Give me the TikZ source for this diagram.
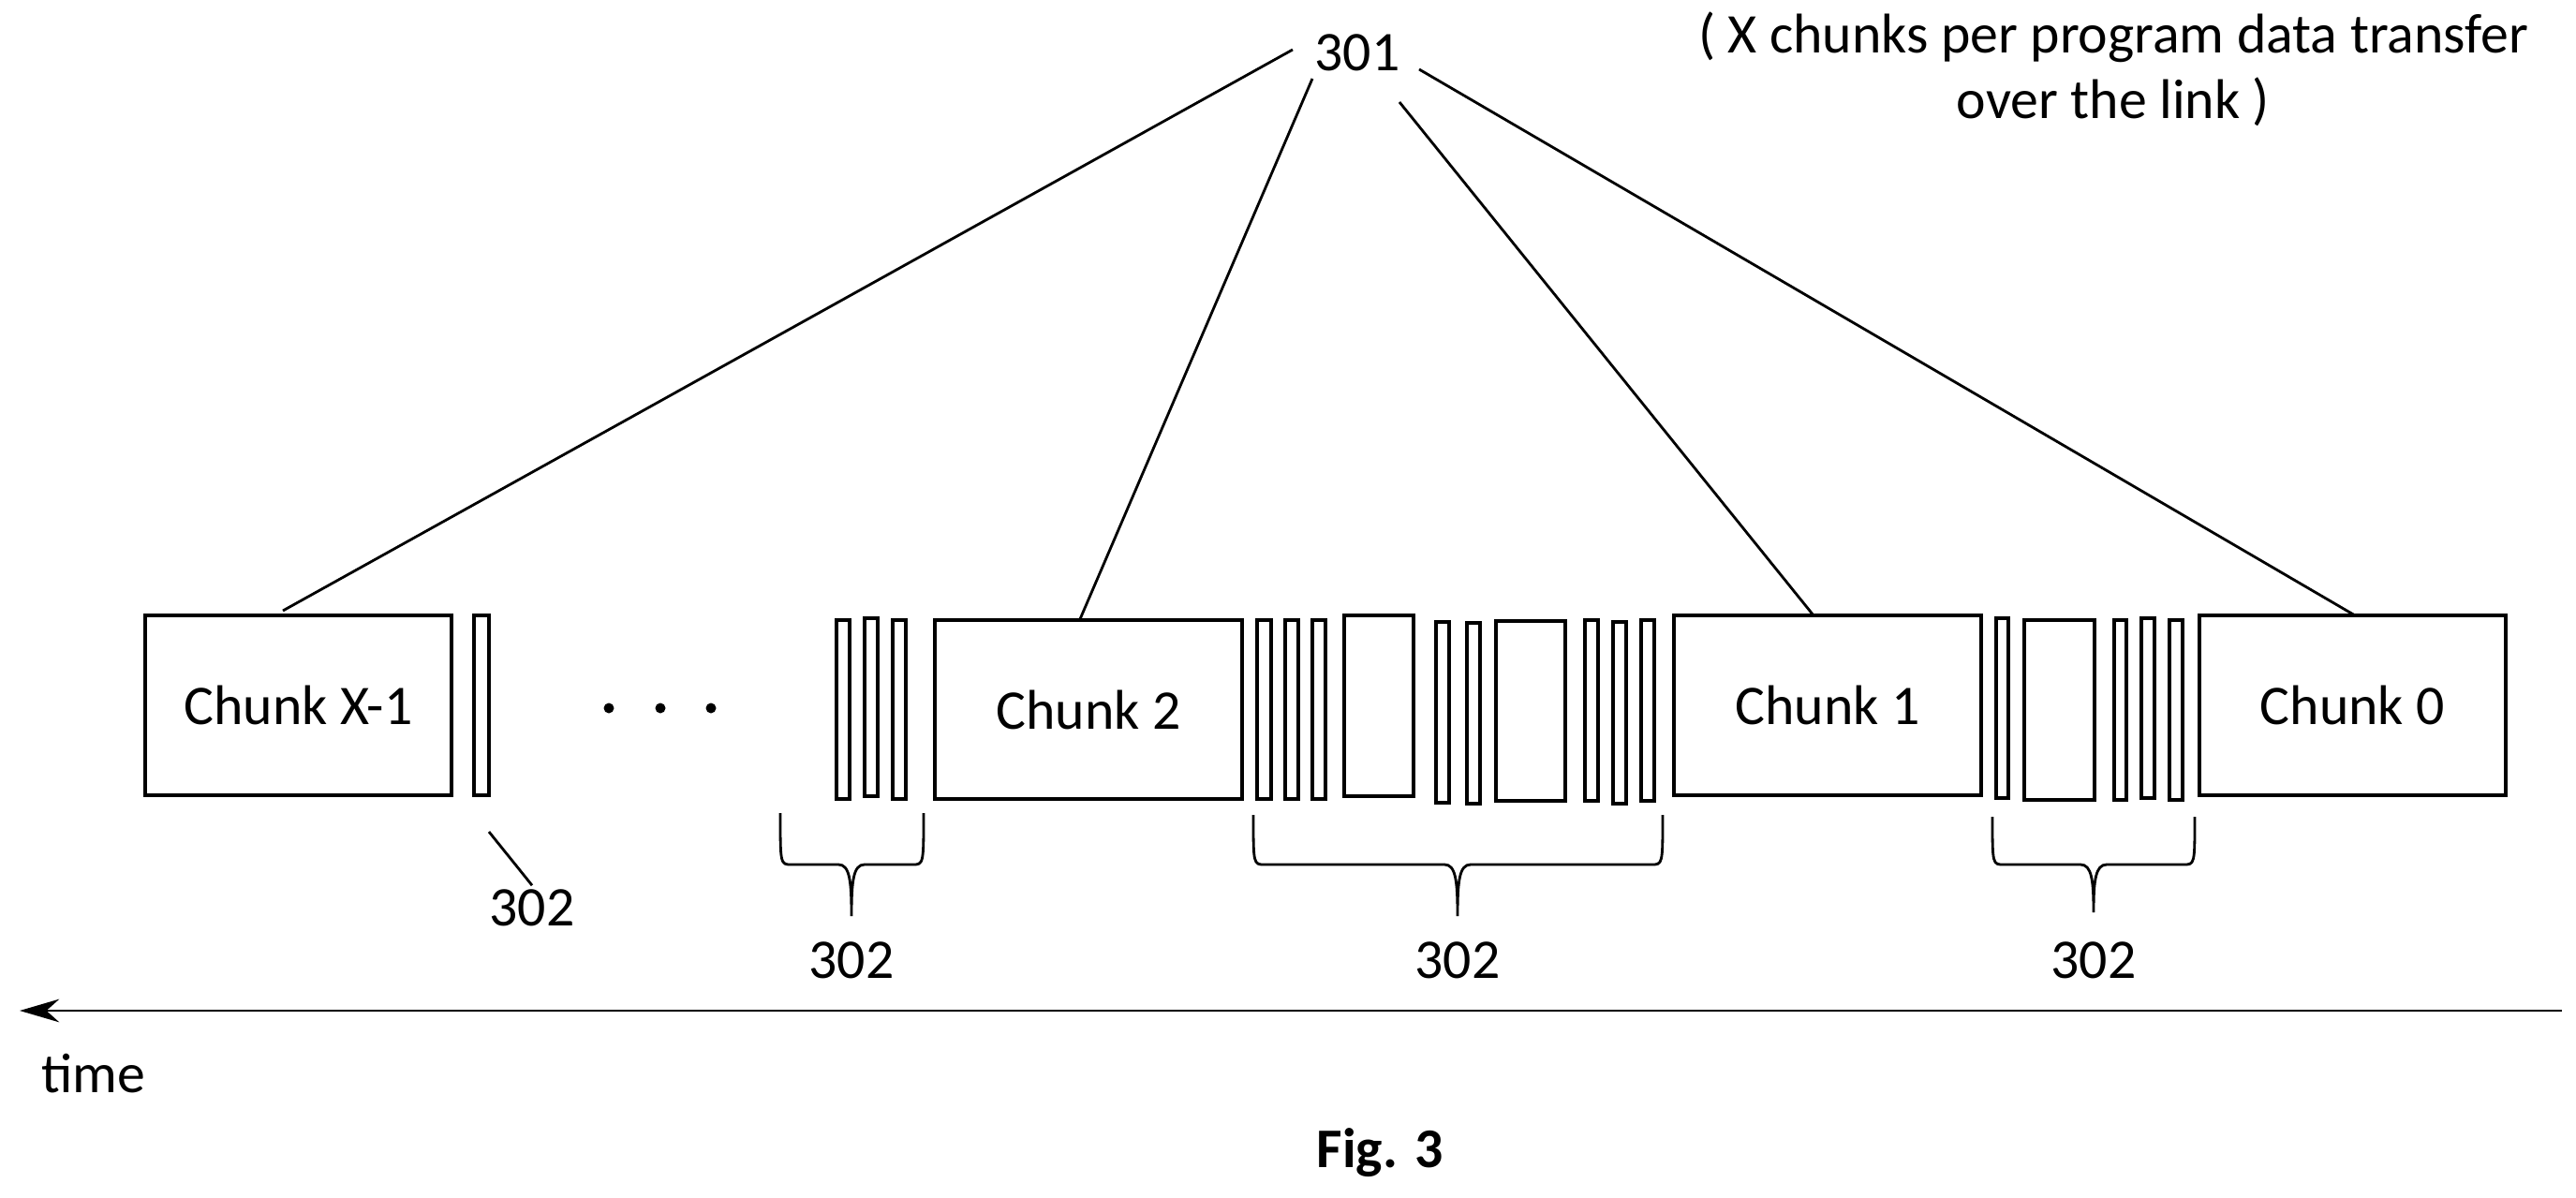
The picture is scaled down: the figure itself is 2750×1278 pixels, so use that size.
\documentclass[tikz,border=0pt]{standalone}
\usepackage{fontspec}
\setmainfont{Carlito}
\usetikzlibrary{arrows.meta}
\begin{document}
\begin{tikzpicture}[x=0.01cm,y=-0.01cm,
  box/.style={draw,line width=1pt,inner sep=0pt,font=\fontsize{17}{20}\selectfont},
  lbl/.style={font=\fontsize{17}{20}\selectfont,inner sep=1pt},
  ln/.style={line width=0.8pt}]
\useasboundingbox (0,0) rectangle (2750,1278);
\newcommand\mybox[6]{\node[box,minimum width={(#3-#2)*0.01cm},minimum height={(#5-#4)*0.01cm}] (#1) at ({(#2+#3)/2},{(#4+#5)/2}) {#6};}
\newcommand\mybrace[5]{% x1 x2 tip top bottom
  \draw[ln] (#1,#4) .. controls (#1,923) and (#1,923) .. (#1+12,923) -- (#3-14,923) .. controls (#3-2,923) and (#3,940) .. (#3,#5)
    (#2,#4) .. controls (#2,923) and (#2,923) .. (#2-12,923) -- (#3+14,923) .. controls (#3+2,923) and (#3,940) .. (#3,#5);}
% chunks
\mybox{cx}{155}{482}{657}{849}{Chunk X-1}
\mybox{c2}{998}{1326}{662}{853}{Chunk 2}
\mybox{c1}{1787}{2115}{657}{849}{Chunk 1}
\mybox{c0}{2348}{2675}{657}{849}{Chunk 0}
% small items
\mybox{a1}{506}{522}{657}{849}{}
\mybox{b1}{893}{907}{662}{853}{}
\mybox{b2}{923}{937}{660}{850}{}
\mybox{b3}{953}{967}{662}{853}{}
\mybox{d1}{1342}{1357}{662}{853}{}
\mybox{d2}{1372}{1386}{662}{853}{}
\mybox{d3}{1401}{1415}{662}{853}{}
\mybox{d4}{1435}{1509}{657}{850}{}
\mybox{d5}{1533}{1547}{664}{857}{}
\mybox{d6}{1566}{1580}{665}{858}{}
\mybox{d7}{1597}{1671}{663}{855}{}
\mybox{d8}{1692}{1706}{662}{855}{}
\mybox{d9}{1722}{1736}{664}{858}{}
\mybox{d10}{1752}{1766}{662}{855}{}
\mybox{e1}{2131}{2144}{660}{852}{}
\mybox{e2}{2161}{2236}{662}{854}{}
\mybox{e3}{2257}{2270}{662}{854}{}
\mybox{e4}{2286}{2300}{660}{852}{}
\mybox{e5}{2316}{2330}{662}{854}{}
% dots
\foreach \x in {650,705,759} \fill (\x,756) circle (5.5);
% braces
\mybrace{833}{986}{909}{868}{978}
\mybrace{1338}{1775}{1556}{870}{978}
\mybrace{2127}{2343}{2235}{872}{974}
% labels 302
\node[lbl] (p1) at (568,969) {302};
\node[lbl] (p2) at (909,1025) {302};
\node[lbl] (p3) at (1556,1025) {302};
\node[lbl] (p4) at (2235,1025) {302};
\coordinate (a1b) at (522,888);
\draw[ln] (a1b) -- (p1.north);
% 301
\node[lbl] (t) at (1449,56) {301};
\coordinate (s1) at (1380,53);
\coordinate (s2) at (1401,84);
\coordinate (s3) at (1494,109);
\coordinate (s4) at (1515,74);
\coordinate (k1) at (302,652);
\coordinate (k2) at (1153,661);
\coordinate (k3) at (1936,657);
\coordinate (k4) at (2514,657);
\draw[ln] (s1) -- (k1);
\draw[ln] (s2) -- (k2);
\draw[ln] (s3) -- (k3);
\draw[ln] (s4) -- (k4);
% note
\node[lbl,align=center] (note) at (2256,74) {( X chunks per program data transfer\\over the link )};
% time axis
\coordinate (tr) at (2735,1079);
\coordinate (tl) at (21,1079);
\draw[ln,-{Stealth[length=12pt,width=7pt]}] (tr) -- (tl);
\node[lbl] (time) at (100,1146) {time};
\node[lbl,font=\bfseries\fontsize{17}{20}\selectfont] (fig) at (1473,1231) {Fig. 3};
\end{tikzpicture}
\end{document}
